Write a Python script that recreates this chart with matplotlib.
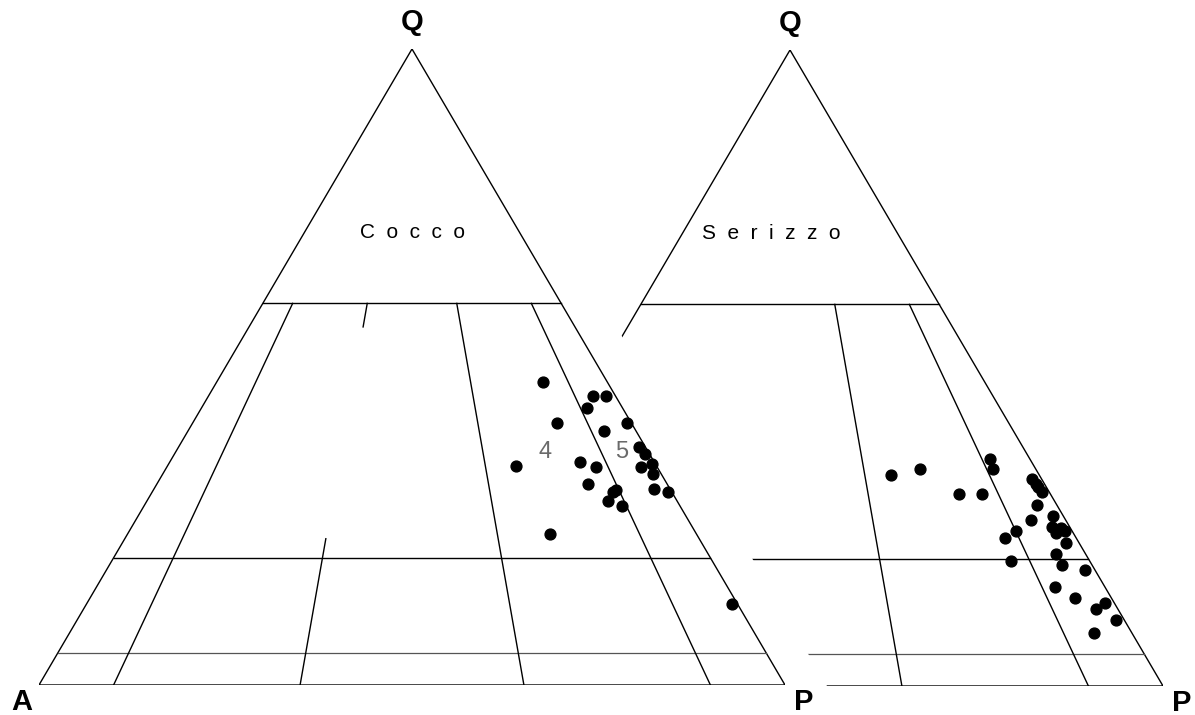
import numpy as np
import matplotlib.pyplot as plt
from matplotlib.patches import Polygon

# QAP plot (Streckeisen), two rock groups
# each sample: Q % and P/(A+P) %
cocco_q = [47.7, 45.4, 45.4, 43.5, 41.2, 41.2, 39.9, 37.4, 36.3, 34.4, 35.1, 34.3,
           34.3, 34.7, 33.2, 31.6, 30.7, 30.4, 29.0, 28.2, 30.8, 30.4, 23.8, 12.7]
cocco_ratio = [83.7, 94.5, 97.7, 91.6, 83.1, 99.0, 92.9, 98.7, 99.1, 71.3, 84.7, 87.6,
               96.7, 99.3, 98.4, 84.5, 89.5, 88.7, 87.0, 89.2, 96.9, 99.3, 74.3, 99.1]

serizzo_q = [33.2, 34.1, 35.7, 34.1, 30.2, 30.2, 32.6, 31.8, 31.3, 30.5, 28.5, 26.1,
             26.8, 25.0, 24.6, 24.9, 24.4, 24.1, 24.4, 23.3, 22.5, 20.7, 19.6, 19.1,
             18.2, 15.5, 13.9, 13.0, 12.1, 10.3, 8.3]
serizzo_ratio = [70.2, 76.4, 91.6, 91.3, 82.4, 86.8, 98.2, 98.3, 98.3, 98.6, 96.4, 93.7,
                 98.2, 96.8, 97.4, 98.3, 98.7, 96.9, 90.0, 87.5, 97.7, 94.9, 86.9, 95.0,
                 98.4, 92.1, 94.3, 98.5, 96.6, 98.7, 94.5]

# field boundaries
q_levels = [60, 20]
q_faint = 5
# (ratio, q_top, q_bottom) segments drawn in each diagram
cocco_ratio_lines = [(10, 60, 0), (35, 60, 56.3), (35, 23, 0), (65, 60, 0), (90, 60, 0)]
serizzo_ratio_lines = [(65, 60, 0), (90, 60, 0)]
a_cut = 45   # right diagram only shown for A < 45 %


def tern(q, r):
    v = np.asarray(q, float) / 100.0
    r = np.asarray(r, float) / 100.0
    return 0.5 * v + r * (1 - v), v


plt.rcParams['font.family'] = ['Liberation Sans', 'DejaVu Sans']
fig = plt.figure(figsize=(11.95, 7.15), dpi=100)
W, H = 1195, 715


def make_ax(x0, ybase):
    ax = fig.add_axes([x0 / W, (H - ybase) / H, 746 / W, 636 / H])
    ax.set_xlim(0, 1)
    ax.set_ylim(0, 1)
    ax.axis('off')
    ax.patch.set_visible(False)
    return ax


def draw_diagram(ax, ratio_lines, q, ratio, name, name_x, clip=None):
    lines = []
    # outline
    lines += ax.plot([0, 0.5, 1, 0], [0, 1, 0, 0], color='black', lw=1.0)
    for ql in q_levels:
        x, y = tern([ql, ql], [0, 100])
        lines += ax.plot(x, y, color='black', lw=1.0)
    x, y = tern([q_faint, q_faint], [0, 100])
    lines += ax.plot(x, y, color='#555555', lw=0.9)
    for r, qt, qb in ratio_lines:
        x, y = tern([qt, qb], [r, r])
        lines += ax.plot(x, y, color='black', lw=1.0)
    if clip is not None:
        for ln in lines:
            ln.set_clip_path(clip)
    x, y = tern(q, ratio)
    ax.plot(x, y, 'o', color='black', ms=7.8, clip_on=False)
    ax.text(0.5, 1.042, 'Q', ha='center', va='center', fontsize=21, fontweight='bold')
    ax.text(1.025, -0.027, 'P', ha='center', va='center', fontsize=21, fontweight='bold')
    ax.text(name_x, 0.711, name, ha='center', va='center', fontsize=15)


ax1 = make_ax(39, 685)
draw_diagram(ax1, cocco_ratio_lines, cocco_q, cocco_ratio, 'C  o  c  c  o', 0.5)
ax1.text(-0.023, -0.027, 'A', ha='center', va='center', fontsize=21, fontweight='bold')
ax1.text(0.678, 0.366, '4', ha='center', va='center', fontsize=17, color='#6a6a6a',
         fontweight='light')
ax1.text(0.781, 0.366, '5', ha='center', va='center', fontsize=17, color='#6a6a6a',
         fontweight='light')

ax2 = make_ax(417, 686)
c = 1 - a_cut / 100.0
clip = Polygon([(c, 0), (1.3, 0), (1.3, 1.3), (c - 0.65, 1.3)], closed=True,
               transform=ax2.transData, visible=False)
ax2.add_patch(clip)
draw_diagram(ax2, serizzo_ratio_lines, serizzo_q, serizzo_ratio, 'S  e  r  i  z  z  o', 0.4745,
             clip=clip)

fig.savefig('out.png', dpi=100)
